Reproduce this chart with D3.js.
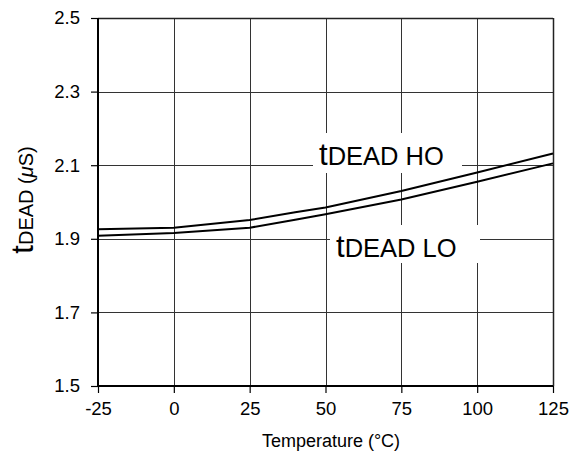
<!DOCTYPE html>
<html><head><meta charset="utf-8">
<script src="https://cdn.jsdelivr.net/npm/d3@7"></script>
<style>
html,body{margin:0;padding:0;background:#fff;}
text{font-family:"Liberation Sans",Arial,sans-serif;fill:#000;}
</style></head>
<body>
<svg id="c" width="573" height="463"></svg>
<script>
const temps = [-25, 0, 25, 40, 50, 75, 100, 125];
const hoValues = [1.926, 1.930, 1.951, 1.972, 1.985, 2.030, 2.080, 2.132];
const loTemps = [-25, 0, 25, 40, 50, 75, 100, 125];
const loValues = [1.908, 1.916, 1.930, 1.952, 1.967, 2.007, 2.055, 2.105];
const xTicks = [-25, 0, 25, 50, 75, 100, 125];
const yTicks = [1.5, 1.7, 1.9, 2.1, 2.3, 2.5];

const svg = d3.select("#c");
const L = 98, R = 553, T = 18, B = 386;
const x = d3.scaleLinear().domain([-25, 125]).range([L, R]);
const y = d3.scaleLinear().domain([1.5, 2.5]).range([B, T]);

// grid
const grid = svg.append("g").attr("stroke", "#333").attr("stroke-width", 1);
xTicks.slice(1, -1).forEach(t => grid.append("line")
  .attr("x1", Math.round(x(t)) + 0.5).attr("x2", Math.round(x(t)) + 0.5)
  .attr("y1", T).attr("y2", B));
yTicks.slice(1, -1).forEach(t => grid.append("line")
  .attr("y1", Math.round(y(t)) + 0.5).attr("y2", Math.round(y(t)) + 0.5)
  .attr("x1", L).attr("x2", R));
// top and right border
svg.append("line").attr("x1", L).attr("x2", R).attr("y1", T + 0.5).attr("y2", T + 0.5)
  .attr("stroke", "#222").attr("stroke-width", 1.5);
svg.append("line").attr("x1", R + 0.5).attr("x2", R + 0.5).attr("y1", T).attr("y2", B)
  .attr("stroke", "#222").attr("stroke-width", 1.5);

// axes
const xAxis = svg.append("g").attr("transform", `translate(0,${B})`)
  .call(d3.axisBottom(x).tickValues(xTicks).tickSize(7).tickPadding(9).tickFormat(d => String(d)));
const yAxis = svg.append("g").attr("transform", `translate(${L},0)`)
  .call(d3.axisLeft(y).tickValues(yTicks).tickSize(7).tickPadding(11).tickFormat(d3.format(".1f")));
[xAxis, yAxis].forEach(a => {
  a.select(".domain").attr("stroke", "#000").attr("stroke-width", 2);
  a.selectAll(".tick line").attr("stroke", "#000").attr("stroke-width", 1.2);
  a.selectAll(".tick text").attr("font-size", 18.5).attr("fill", "#000")
    .attr("font-family", "Liberation Sans, Arial, sans-serif");
});
xAxis.select(".domain").attr("d", `M${L},0H${R}`);
yAxis.select(".domain").attr("d", `M0,${T}V${B}`);

// curves
const line = d3.line().x(d => x(d[0])).y(d => y(d[1]));
svg.append("path").datum(temps.map((t, i) => [t, hoValues[i]]))
  .attr("d", line).attr("fill", "none").attr("stroke", "#000").attr("stroke-width", 2);
svg.append("path").datum(loTemps.map((t, i) => [t, loValues[i]]))
  .attr("d", line).attr("fill", "none").attr("stroke", "#000").attr("stroke-width", 2);

// labels with white boxes
function label(bx, by, bw, bh, tx, ty, sub) {
  svg.append("rect").attr("x", bx).attr("y", by).attr("width", bw).attr("height", bh).attr("fill", "#fff");
  const t = svg.append("text").attr("x", tx).attr("y", ty);
  t.append("tspan").attr("font-size", 31).text("t");
  t.append("tspan").attr("font-size", 25.5).text(sub);
}
label(313, 133, 149, 40, 319, 165, "DEAD HO");
label(330, 225, 150, 38, 336, 257, "DEAD LO");

// axis titles
svg.append("text").attr("x", 331).attr("y", 447).attr("text-anchor", "middle")
  .attr("font-size", 18).text("Temperature (°C)");
const yl = svg.append("text").attr("transform", "translate(33,200) rotate(-90)").attr("text-anchor", "middle");
yl.append("tspan").attr("font-size", 31).text("t");
yl.append("tspan").attr("font-size", 20).text("DEAD (");
yl.append("tspan").attr("font-size", 20).attr("font-style", "italic").text("μ");
yl.append("tspan").attr("font-size", 20).text("S)");
</script>
</body></html>
